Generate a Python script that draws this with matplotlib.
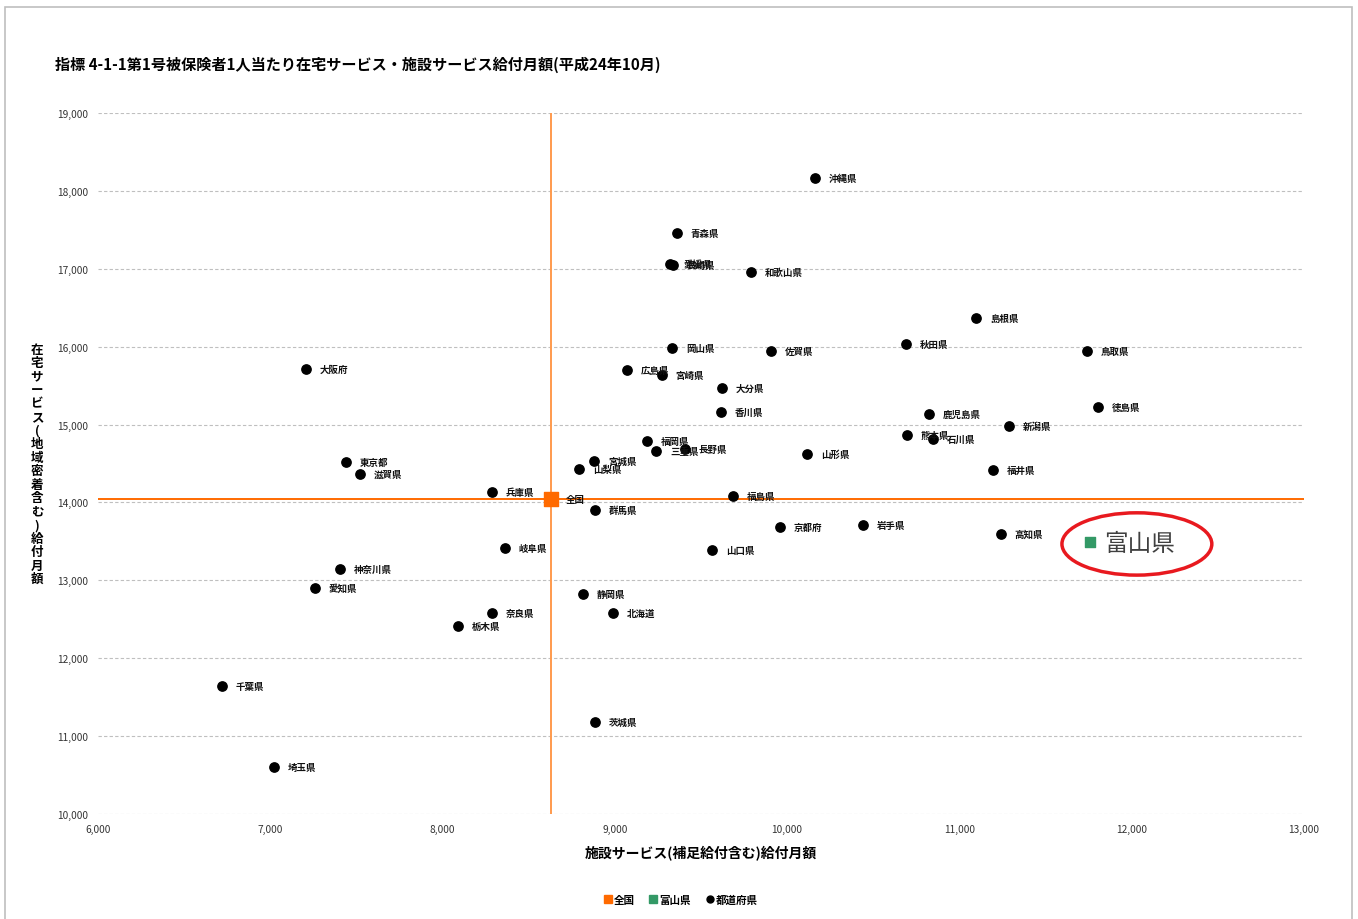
import matplotlib
matplotlib.use("Agg")
import matplotlib.pyplot as plt
from matplotlib.patches import Ellipse, Rectangle
from matplotlib.lines import Line2D
from matplotlib.ticker import FuncFormatter, MultipleLocator

plt.rcParams["font.family"] = ["Noto Sans CJK JP", "DejaVu Sans"]

# 都道府県ごとの値 (x: 施設サービス, y: 在宅サービス)
prefs = ["沖縄県", "青森県", "愛媛県", "長崎県", "和歌山県", "島根県", "岡山県",
         "佐賀県", "秋田県", "鳥取県", "大阪府", "広島県", "宮崎県", "大分県",
         "香川県", "徳島県", "鹿児島県", "新潟県", "熊本県", "石川県", "福岡県",
         "三重県", "長野県", "山形県", "東京都", "宮城県", "山梨県", "滋賀県",
         "福井県", "兵庫県", "福島県", "群馬県", "京都府", "岩手県", "高知県",
         "岐阜県", "山口県", "神奈川県", "愛知県", "静岡県", "奈良県", "北海道",
         "栃木県", "千葉県", "茨城県", "埼玉県"]
shisetsu = [10161, 9360, 9320, 9335, 9790, 11096, 9331,
            9906, 10689, 11740, 7207, 9070, 9273, 9622,
            9616, 11804, 10823, 11287, 10695, 10846, 9186,
            9239, 9407, 10115, 7439, 8879, 8792, 7521,
            11194, 8287, 9685, 8884, 9958, 10440, 11241,
            8362, 9564, 7405, 7259, 8815, 8287, 8989,
            8089, 6720, 8884, 7021]
zaitaku = [18166, 17460, 17062, 17050, 16959, 16368, 15983,
           15945, 16035, 15945, 15714, 15701, 15637, 15470,
           15162, 15226, 15136, 14982, 14867, 14815, 14789,
           14661, 14687, 14623, 14520, 14533, 14430, 14366,
           14417, 14135, 14083, 13904, 13685, 13711, 13596,
           13416, 13390, 13146, 12902, 12825, 12581, 12581,
           12415, 11644, 11182, 10605]

zenkoku_x, zenkoku_y = 8629, 14040
toyama_x, toyama_y = 11757, 13493

ORANGE = "#FF6A00"
ORANGE_LIGHT = "#FF9A4D"
GREEN = "#339966"

fig = plt.figure(figsize=(13.58, 9.2), dpi=100)
ax = fig.add_axes([98 / 1358, 1 - 815 / 920, 1206 / 1358, 701 / 920])

# 外枠
fig.patches.append(Rectangle((5 / 1358, -0.01), 1347 / 1358, 1 - 8 / 920 + 0.01,
                             transform=fig.transFigure, fill=False,
                             edgecolor="#BFBFBF", linewidth=1.2))

ax.set_xlim(6000, 13000)
ax.set_ylim(10000, 19000)
ax.xaxis.set_major_locator(MultipleLocator(1000))
ax.yaxis.set_major_locator(MultipleLocator(1000))
fmt = FuncFormatter(lambda v, p: "{:,.0f}".format(v))
ax.xaxis.set_major_formatter(fmt)
ax.yaxis.set_major_formatter(fmt)
ax.tick_params(length=0, labelsize=7.3, colors="#333333", pad=7)
for s in ax.spines.values():
    s.set_visible(False)
ax.grid(axis="y", color="#BFBFBF", linestyle=(0, (3, 2)), linewidth=0.8)
ax.set_axisbelow(True)

# 全国の基準線
ax.axvline(zenkoku_x, color=ORANGE_LIGHT, linewidth=1.4, zorder=1)
ax.axhline(zenkoku_y, color=ORANGE, linewidth=1.4, zorder=1)

ax.scatter(shisetsu, zaitaku, s=45, color="black", zorder=3)
for n, x, y in zip(prefs, shisetsu, zaitaku):
    ax.annotate(n, (x, y), xytext=(10, 0), textcoords="offset points",
                fontsize=6.8, fontweight="bold", va="center", ha="left",
                color="#111111")

ax.scatter([zenkoku_x], [zenkoku_y], s=100, marker="s", color=ORANGE, zorder=4)
ax.annotate("全国", (zenkoku_x, zenkoku_y), xytext=(11, 0),
            textcoords="offset points", fontsize=6.8, fontweight="bold",
            va="center", ha="left", color="#111111")

ax.scatter([toyama_x], [toyama_y], s=60, marker="s", color=GREEN, zorder=4)
ax.annotate("富山県", (toyama_x, toyama_y), xytext=(10, -1),
            textcoords="offset points", fontsize=17, va="center", ha="left",
            color="#404040")
ax.add_patch(Ellipse((12030, 13467), 870, 800, fill=False, edgecolor="#E8191F",
                     linewidth=2.5, clip_on=False, zorder=5))

fig.text(55 / 1358, 1 - 65 / 920,
         "指標 4-1-1第1号被保険者1人当たり在宅サービス・施設サービス給付月額(平成24年10月)",
         fontsize=10.9, fontweight="bold", ha="left", va="center")

ax.set_xlabel("施設サービス(補足給付含む)給付月額", fontsize=10, fontweight="bold",
              labelpad=8)
ylab = "在宅サービス(地域密着含む)給付月額"
fig.text(37 / 1358, 1 - 465 / 920, "\n".join(ylab), fontsize=9,
         fontweight="bold", ha="center", va="center", linespacing=1.05)

handles = [
    Line2D([], [], marker="s", color=ORANGE, linestyle="", markersize=6),
    Line2D([], [], marker="s", color=GREEN, linestyle="", markersize=6),
    Line2D([], [], marker="o", color="black", linestyle="", markersize=5),
]
leg = fig.legend(handles, ["全国", "富山県", "都道府県"], loc="center",
                 bbox_to_anchor=(680 / 1358, 1 - 901 / 920), ncol=3,
                 frameon=False, handletextpad=0.05, columnspacing=1.3,
                 handlelength=1.0, prop={"size": 7.6, "weight": "bold"})

fig.savefig("out.png", dpi=100)
